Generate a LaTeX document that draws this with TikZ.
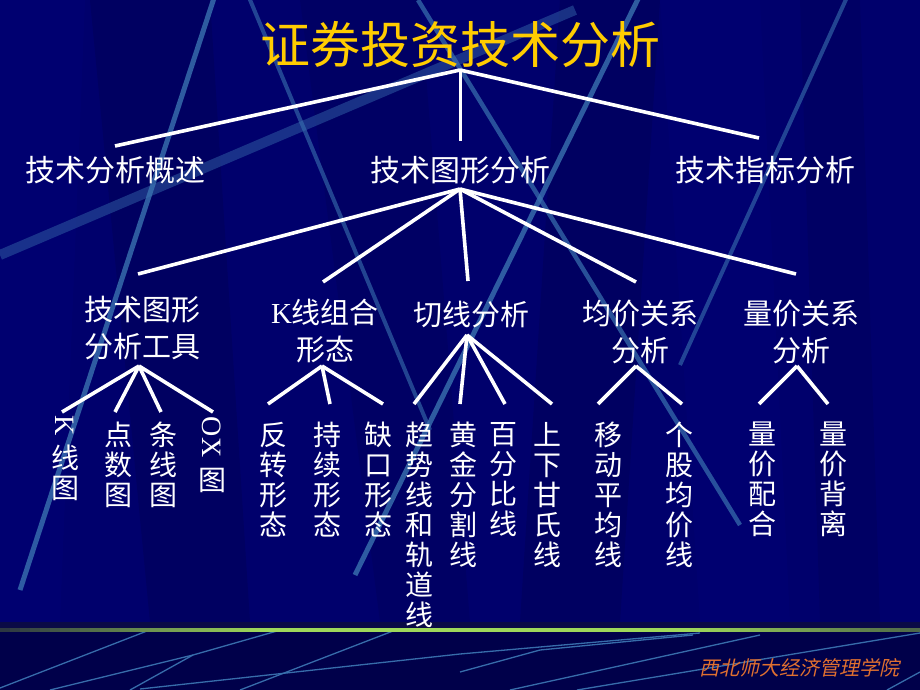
\documentclass[tikz,border=0pt]{standalone}
\usepackage{fontspec}
\newfontfamily\cjk{Noto Sans CJK SC}
\newfontfamily\cjkit[FakeSlant=0.22]{Noto Sans CJK SC}
\newfontfamily\tms{Liberation Serif}
\definecolor{bgnavy}{HTML}{00006C}
\definecolor{bgdark}{HTML}{00005A}
\definecolor{bglight}{HTML}{000078}
\definecolor{bgbottom}{HTML}{00004A}
\definecolor{bgstrip}{HTML}{0A0A46}
\definecolor{beam}{HTML}{3A72B0}
\definecolor{titleyellow}{HTML}{FFCC00}
\definecolor{footorange}{HTML}{E07030}
\definecolor{gdark}{HTML}{2A3440}
\definecolor{ggreen}{HTML}{9ED85A}
\tikzset{
  titletext/.style={font=\cjk\fontsize{50}{56}\selectfont, text=titleyellow, inner sep=0},
  lvlone/.style={font=\cjk\fontsize{30}{36}\selectfont, text=white, inner sep=0},
  lvltwo/.style={font=\cjk\fontsize{29}{37}\selectfont, text=white, align=center, inner sep=0},
  vtext/.style={font=\cjk\fontsize{28}{30}\selectfont, text=white, align=center, inner sep=0, anchor=north},
  vlatin/.style={font=\tms\fontsize{28}{30}\selectfont, text=white, inner sep=0, rotate=-90},
  conn/.style={white, line width=3.6pt},
  connthin/.style={white, line width=3pt},
  beamline/.style={beam, line width=#1, opacity=0.8},
  bline/.style={beam, line width=1.3pt, opacity=0.95},
}
\begin{document}
\begin{tikzpicture}[x=1pt,y=-1pt]
\useasboundingbox (0,0) rectangle (920,690);
% ---------- background ----------
\fill[bgnavy] (0,0) rectangle (920,622);
\fill[bglight, opacity=0.4] (0,0) -- (85,0) -- (60,622) -- (0,622) -- cycle;
\fill[bgdark, opacity=0.6] (90,0) -- (210,0) -- (250,622) -- (150,622) -- cycle;
\fill[bgdark, opacity=0.4] (300,0) -- (420,0) -- (470,622) -- (380,622) -- cycle;
\fill[bgdark, opacity=0.6] (560,0) -- (660,0) -- (620,622) -- (520,622) -- cycle;
\fill[bglight, opacity=0.35] (660,0) -- (760,0) -- (790,622) -- (700,622) -- cycle;
\fill[bgdark, opacity=0.4] (800,0) -- (860,0) -- (880,622) -- (820,622) -- cycle;
\begin{scope}
  \clip (0,0) rectangle (920,622);
  \draw[beam!80!bgnavy, line width=10pt, opacity=0.55] (0,255) -- (575,10);
  \draw[beamline=5pt] (215,-5) -- (20,590);
  \draw[beamline=5pt] (640,-5) -- (355,575);
  \draw[beamline=4pt, opacity=0.6] (248,-5) -- (430,430);
  \draw[beamline=4.5pt, opacity=0.7] (418,0) -- (740,525);
  \draw[beamline=4pt, opacity=0.6] (848,-5) -- (680,365);
\end{scope}
\fill[bgbottom] (0,622) rectangle (920,690);
\fill[bgstrip] (0,622) rectangle (920,628);
\begin{scope}
  \clip (0,632) rectangle (920,690);
  \draw[bline] (0,688) -- (147,631);
  \draw[bline] (50,690) -- (193,655) -- (277,631);
  \draw[bline] (130,690) -- (193,655);
  \draw[bline] (240,690) -- (393,631);
  \draw[bline] (140,689) -- (460,654) -- (700,633);
  \draw[bline] (460,672) -- (540,650) -- (693,635);
  \draw[bline] (510,690) -- (660,657) -- (760,635);
  \draw[bline] (577,690) -- (920,633);
  \draw[bline] (887,690) -- (920,672);
\end{scope}
% green separator drawn as short segments of graded colour
\foreach \i in {0,...,91} {
  \pgfmathsetmacro{\xm}{\i*10+5}
  \pgfmathsetmacro{\pa}{min(100,\xm/2.6)}
  \pgfmathsetmacro{\pb}{max(30,100-(\xm-690)/230*70)}
  \pgfmathsetmacro{\p}{min(\pa,min(100,\pb))}
  \fill[ggreen!\p!gdark] (\i*10,628) rectangle ++(10.5,4);
}
% ---------- nodes ----------
\node[titletext] (t) at (460,45) {证券投资技术分析};
\node[lvlone] (a1) at (115,170) {技术分析概述};
\node[lvlone] (a2) at (460,170) {技术图形分析};
\node[lvlone] (a3) at (765,170) {技术指标分析};
\node[lvltwo] (b1) at (142,328) {技术图形\\分析工具};
\node[lvltwo] (b2) at (325,331) {{\tms K}线组合\\形态};
\node[lvltwo] (b3) at (471,314) {切线分析};
\node[lvltwo] (b4) at (640,332) {均价关系\\分析};
\node[lvltwo] (b5) at (801,332) {量价关系\\分析};
% group 1
\node[vlatin] (c1k) at (65,426) {K};
\node[vtext] (c1) at (65,445) {线\\图};
\node[vtext] (c2) at (118,422) {点\\数\\图};
\node[vtext] (c3) at (163,422) {条\\线\\图};
\node[vlatin] (c4k) at (212,437) {OX};
\node[vtext] (c4) at (212,468) {图};
% group 2
\node[vtext] (c5) at (273,422) {反\\转\\形\\态};
\node[vtext] (c6) at (327,422) {持\\续\\形\\态};
\node[vtext] (c7) at (378,422) {缺\\口\\形\\态};
% group 3
\node[vtext] (c8) at (419,422) {趋\\势\\线\\和\\轨\\道\\线};
\node[vtext] (c9) at (463,422) {黄\\金\\分\\割\\线};
\node[vtext] (c10) at (503,422) {百\\分\\比\\线};
\node[vtext] (c11) at (547,422) {上\\下\\甘\\氏\\线};
% group 4
\node[vtext] (c12) at (608,422) {移\\动\\平\\均\\线};
\node[vtext] (c13) at (679,422) {个\\股\\均\\价\\线};
% group 5
\node[vtext] (c14) at (762,422) {量\\价\\配\\合};
\node[vtext] (c15) at (833,422) {量\\价\\背\\离};
% footer
\node[font=\cjkit\fontsize{20}{24}\selectfont, text=footorange, inner sep=0] (foot) at (799,668) {西北师大经济管理学院};
% ---------- connector points ----------
\coordinate (t-ap) at (460,70);
\coordinate (a1-up) at (115,146);
\coordinate (a2-up) at (460,141);
\coordinate (a3-up) at (759,138);
\coordinate (a2-ap) at (460,189);
\coordinate (b1-up) at (138,274);
\coordinate (b2-up) at (323,282);
\coordinate (b3-up) at (468,281);
\coordinate (b4-up) at (636,282);
\coordinate (b5-up) at (796,274);
\coordinate (b1-ap) at (139,366);
\coordinate (c1-up) at (62,412);
\coordinate (c2-up) at (115,412);
\coordinate (c3-up) at (161,412);
\coordinate (c4-up) at (213,412);
\coordinate (b2-ap) at (322,366);
\coordinate (c5-up) at (268,404);
\coordinate (c6-up) at (330,404);
\coordinate (c7-up) at (383,404);
\coordinate (b3-ap) at (467,335);
\coordinate (c8-up) at (414,404);
\coordinate (c9-up) at (460,404);
\coordinate (c10-up) at (505,404);
\coordinate (c11-up) at (552,404);
\coordinate (b4-ap) at (636,366);
\coordinate (c12-up) at (598,404);
\coordinate (c13-up) at (682,404);
\coordinate (b5-ap) at (797,366);
\coordinate (c14-up) at (759,404);
\coordinate (c15-up) at (828,404);
% ---------- connectors ----------
\draw[conn] (t-ap) -- (a1-up);
\draw[connthin] (t-ap) -- (a2-up);
\draw[conn] (t-ap) -- (a3-up);
\foreach \e in {b1,b2,b3,b4,b5} \draw[conn] (a2-ap) -- (\e-up);
\foreach \e in {c1,c2,c3,c4} \draw[conn] (b1-ap) -- (\e-up);
\foreach \e in {c5,c6,c7} \draw[conn] (b2-ap) -- (\e-up);
\foreach \e in {c8,c9,c10,c11} \draw[conn] (b3-ap) -- (\e-up);
\foreach \e in {c12,c13} \draw[conn] (b4-ap) -- (\e-up);
\foreach \e in {c14,c15} \draw[conn] (b5-ap) -- (\e-up);
\end{tikzpicture}
\end{document}
